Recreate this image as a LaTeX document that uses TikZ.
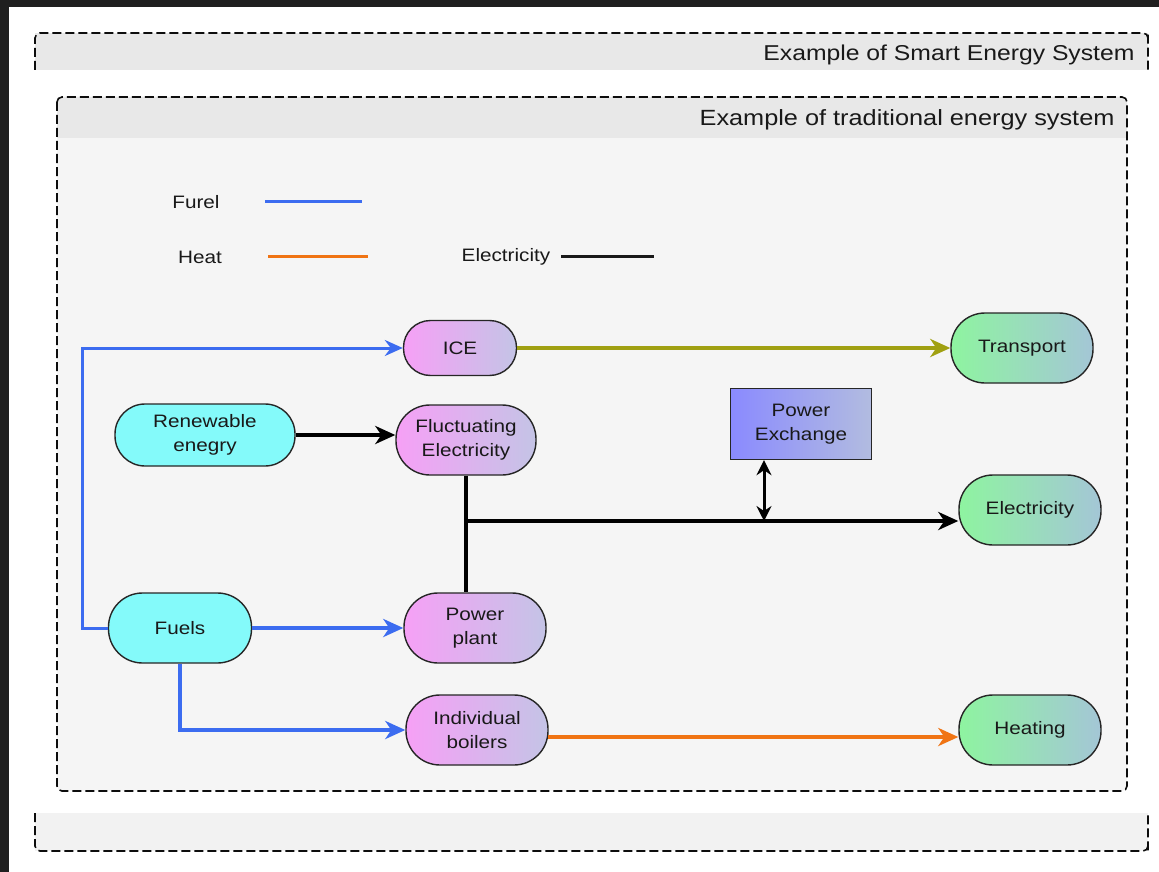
\documentclass[tikz,border=0pt]{standalone}
\usepackage{fontspec}
\setmainfont{Liberation Sans}[FakeStretch=1.15]
\usetikzlibrary{arrows.meta}
\definecolor{fuelblue}{HTML}{3C6CF0}
\definecolor{heatorange}{HTML}{F07414}
\definecolor{olive}{HTML}{A0A012}
\definecolor{pinkL}{HTML}{F6A0F6}
\definecolor{pinkR}{HTML}{C4C4E6}
\definecolor{greenL}{HTML}{8EF4A0}
\definecolor{greenR}{HTML}{A4C6D6}
\definecolor{cyanF}{HTML}{84FAFA}
\definecolor{pexL}{HTML}{8A8AFF}
\definecolor{pexR}{HTML}{B2BCE0}
\definecolor{edgegray}{HTML}{262626}
\tikzset{
  every node/.style={font=\fontsize{18}{24}\selectfont, text=black!90},
  frame/.style={draw=black!95, line width=1.6pt, dash pattern=on 9pt off 4pt},
  pill/.style={draw=edgegray, line width=1.4pt, align=center, inner sep=0pt,
    minimum width=142pt, minimum height=70pt, rounded corners=34pt},
  proc/.style={pill, left color=pinkL, right color=pinkR},
  sink/.style={pill, left color=greenL, right color=greenR},
  source/.style={pill, fill=cyanF},
  tip/.style={-{Stealth[length=20pt,width=18pt,inset=6pt]}},
  fuel/.style={draw=fuelblue, line width=4.5pt, tip},
  fuelthin/.style={draw=fuelblue, line width=3pt,
    -{Stealth[length=18pt,width=16pt,inset=6pt]}},
  elec/.style={draw=black, line width=4pt},
  heatline/.style={draw=heatorange, line width=4pt, tip},
  legline/.style={line width=3pt}
}
\begin{document}
\begin{tikzpicture}[x=1pt, y=-1pt]
\useasboundingbox (0,0) rectangle (1159,872);
\fill[white] (0,0) rectangle (1159,872);
% dark edges of the mount
\fill[black!88] (0,0) rectangle (1159,7);
\fill[black!88] (0,0) rectangle (9,872);

% outer frame: header and footer bands
\fill[black!9] (35,33) rectangle (1148,70);
\fill[black!5] (35,813) rectangle (1148,851);
\draw[frame] (35,70) -- (35,38) [rounded corners=5pt] -- (35,33) -- (1148,33) -- (1148,38) [sharp corners] -- (1148,70);
\draw[frame] (35,813) -- (35,846) [rounded corners=5pt] -- (35,851) -- (1148,851) -- (1148,846) [sharp corners] -- (1148,813);
\node[anchor=east, font=\fontsize{21.5}{24}\selectfont] (outertitle) at (1138,55) {Example of Smart Energy System};

% inner frame
\fill[black!4, rounded corners=5pt] (57,97) rectangle (1127,791);
\fill[black!9, rounded corners=5pt] (57,97) rectangle (1127,138);
\fill[black!9] (57,110) rectangle (1127,138);
\draw[frame, rounded corners=5pt] (57,97) rectangle (1127,791);
\node[anchor=east, font=\fontsize{22}{24}\selectfont] (innertitle) at (1118,120) {Example of traditional energy system};

% legend
\node (lfuel) at (196,202) {Furel};
\node (lheat) at (200,257) {Heat};
\node (lelec) at (506,257) {Electricity};
\coordinate (lfa) at (265,201); \coordinate (lfb) at (362,201);
\coordinate (lha) at (268,256); \coordinate (lhb) at (368,256);
\coordinate (lea) at (561,256); \coordinate (leb) at (654,256);
\draw[legline, fuelblue] (lfa) -- (lfb);
\draw[legline, heatorange] (lha) -- (lhb);
\draw[legline, black!90] (lea) -- (leb);

% nodes
\node[proc, minimum width=113pt, minimum height=55pt, rounded corners=27pt] (ice) at (460,348) {ICE};
\node[sink] (trans) at (1022,348) {Transport};
\node[source, minimum width=180pt, minimum height=62pt, rounded corners=30pt] (renew) at (205,435) {Renewable\\enegry};
\node[proc, minimum width=140pt] (fluct) at (466,440) {Fluctuating\\Electricity};
\node[draw=edgegray, line width=1.4pt, left color=pexL, right color=pexR, align=center,
  minimum width=141pt, minimum height=71pt, inner sep=0pt] (pex) at (801,424) {Power\\Exchange};
\node[sink] (elecn) at (1030,510) {Electricity};
\node[source, minimum width=143pt] (fuels) at (180,628) {Fuels};
\node[proc] (plant) at (475,628) {Power\\plant};
\node[proc] (boil) at (477,730) {Individual\\boilers};
\node[sink] (heat) at (1030,730) {Heating};

% fuel connectors
\draw[fuelthin] (fuels.west) -- ++(-25,0) |- (ice.west);
\draw[fuel] (fuels.east) -- (plant.west);
\draw[fuel] (fuels.south) |- (boil.west);

% transport
\draw[draw=olive, line width=4pt, tip] (ice.east) -- (trans.west);

% electricity
\draw[elec, tip] (renew.east) -- (renew.east -| fluct.west);
\coordinate (bus) at (466,521);
\coordinate (pexfoot) at (764,521);
\draw[elec] (fluct.south) -- (fluct.south |- plant.north);
\draw[elec, tip] (bus) -- (bus -| elecn.west);
\draw[draw=black, line width=3pt, {Stealth[length=15pt,width=15pt,inset=5pt]}-{Stealth[length=15pt,width=15pt,inset=5pt]}]
  (pexfoot |- pex.south) -- (pexfoot);

% heat
\coordinate (hrow) at (548,737);
\draw[heatline] (hrow) -- (hrow -| heat.west);
\end{tikzpicture}
\end{document}
